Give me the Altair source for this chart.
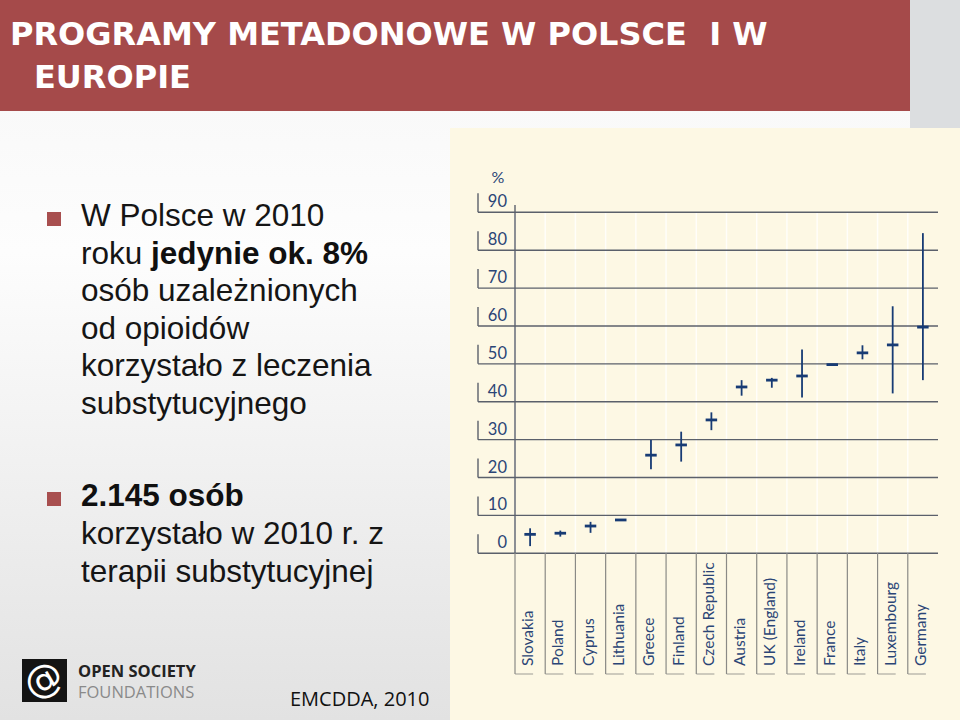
import altair as alt
import pandas as pd

# ---- data ----
countries = ["Slovakia", "Poland", "Cyprus", "Lithuania", "Greece", "Finland",
             "Czech Republic", "Austria", "UK (England)", "Ireland", "France",
             "Italy", "Luxembourg", "Germany"]
center = [5.0, 5.3, 7.2, 8.8, 25.9, 28.6, 35.2, 43.9, 45.7, 46.8, 49.8, 52.9, 55.0, 59.7]
low = [1.9, 4.4, 5.4, 8.8, 22.2, 24.2, 32.5, 41.6, 43.7, 41.1, 49.8, 51.2, 42.2, 45.7]
high = [6.6, 6.0, 8.3, 8.8, 29.9, 32.1, 37.2, 45.7, 46.3, 53.8, 49.8, 54.9, 65.2, 84.5]
y_ticks = [0, 10, 20, 30, 40, 50, 60, 70, 80, 90]

title_lines = ["PROGRAMY METADONOWE W POLSCE\u00a0\u00a0I W", "EUROPIE"]
bullet1 = ["W Polsce w 2010", "roku", "osób uzależnionych", "od opioidów",
           "korzystało z leczenia", "substytucyjnego"]
bullet1_bold = "jedynie ok. 8%"
bullet2_bold = "2.145 osób"
bullet2 = ["korzystało w 2010 r. z", "terapii substytucyjnej"]
source = "EMCDDA, 2010"

df = pd.DataFrame({"country": countries, "center": center, "low": low, "high": high})
dticks = pd.DataFrame({"v": y_ticks})
dc = pd.DataFrame({"country": countries})

NAVY = "#173b74"
LAB = "#2b4576"
GRID = "#5b606b"

xs = alt.Scale(domain=countries, range=[515, 938], paddingInner=0, paddingOuter=0)
ys = alt.Scale(domain=[0, 90], range=[553.3, 212.3], nice=False, zero=False)


def X(bp=0.5):
    return alt.X("country:N", scale=xs, axis=None, sort=countries, bandPosition=bp)


one = pd.DataFrame({"a": [0]})

# background
bg = alt.Chart(one).mark_rect(
    fill=alt.Gradient(gradient="linear", x1=0, y1=0, x2=0, y2=1,
                      stops=[alt.GradientStop(color="#f6f6f6", offset=0),
                             alt.GradientStop(color="#fdfdfd", offset=0.35),
                             alt.GradientStop(color="#e2e2e2", offset=1)])
).encode(x=alt.value(0), x2=alt.value(960), y=alt.value(0), y2=alt.value(720))

strip = alt.Chart(one).mark_rect(color="#dcdee0").encode(
    x=alt.value(910), x2=alt.value(960), y=alt.value(0), y2=alt.value(128))

header = alt.Chart(one).mark_rect(color="#a54a4a").encode(
    x=alt.value(0), x2=alt.value(910), y=alt.value(0), y2=alt.value(111))

cream = alt.Chart(one).mark_rect(color="#fdf8e4").encode(
    x=alt.value(450), x2=alt.value(960), y=alt.value(128), y2=alt.value(720))

faint = alt.Chart(dc).mark_rule(color="white", strokeWidth=1.5, opacity=0.8).encode(
    x=X(0), y=alt.value(212), y2=alt.value(553))

grid = alt.Chart(dticks).mark_rule(color=GRID, strokeWidth=1.4).encode(
    y=alt.Y("v:Q", scale=ys, axis=None), x=alt.value(478), x2=alt.value(938))

bars = alt.Chart(dticks).mark_rule(color=GRID, strokeWidth=1.4, yOffset=-19).encode(
    y=alt.Y("v:Q", scale=ys, axis=None), y2=alt.Y2("v:Q"), x=alt.value(478))

ylab = alt.Chart(dticks).mark_text(align="right", baseline="alphabetic", dy=-5,
                                   font="Lato", fontSize=16.5, color=LAB).encode(
    y=alt.Y("v:Q", scale=ys, axis=None), x=alt.value(507), text="v:Q")

pct = alt.Chart(one).mark_text(font="Lato", fontSize=16, color=LAB, baseline="middle").encode(
    x=alt.value(498), y=alt.value(178), text=alt.value("%"))

yaxis = alt.Chart(one).mark_rule(color=GRID, strokeWidth=1.4).encode(
    x=alt.value(515), y=alt.value(205), y2=alt.value(553))

seps = alt.Chart(dc).mark_rule(color="#8a8a86", strokeWidth=1.2).encode(
    x=X(0), y=alt.value(553), y2=alt.value(674))

feet = alt.Chart(dc).mark_tick(orient="horizontal", size=18, thickness=1.2,
                               color="#8a8a86", xOffset=-6).encode(
    x=X(), y=alt.value(674))

clab = alt.Chart(dc).mark_text(angle=270, align="left", baseline="middle",
                               font="Lato", fontSize=15.5, color=LAB, xOffset=-2).encode(
    x=X(), y=alt.value(666), text="country:N")

whisk = alt.Chart(df).mark_rule(color=NAVY, strokeWidth=1.8).encode(
    x=X(), y=alt.Y("low:Q", scale=ys, axis=None), y2="high:Q")

ticks = alt.Chart(df).mark_tick(orient="horizontal", size=11.5, thickness=2.8, color=NAVY,
                                opacity=1).encode(
    x=X(), y=alt.Y("center:Q", scale=ys, axis=None))

TF = "DejaVu Sans"
t1 = alt.Chart(one).mark_text(align="left", baseline="alphabetic", font=TF, fontSize=32,
                              fontWeight="bold", color="white").encode(
    x=alt.value(10), y=alt.value(45), text=alt.value(title_lines[0]))
t2 = alt.Chart(one).mark_text(align="left", baseline="alphabetic", font=TF, fontSize=32,
                              fontWeight="bold", color="white").encode(
    x=alt.value(34), y=alt.value(88), text=alt.value(title_lines[1]))

BF = "Liberation Sans, Arial, sans-serif"
FS = 31.5
sq1 = alt.Chart(one).mark_square(size=196, color="#a84f4f", opacity=1).encode(
    x=alt.value(54), y=alt.value(219))
sq2 = alt.Chart(one).mark_square(size=196, color="#a84f4f", opacity=1).encode(
    x=alt.value(54), y=alt.value(499))

b1 = alt.Chart(one).mark_text(align="left", baseline="alphabetic", font=BF, fontSize=FS,
                              lineHeight=37.6, color="#151515").encode(
    x=alt.value(81), y=alt.value(226), text=alt.value(bullet1))
b1b = alt.Chart(one).mark_text(align="left", baseline="alphabetic", font=BF, fontSize=FS,
                               fontWeight="bold", color="#101010").encode(
    x=alt.value(151), y=alt.value(264), text=alt.value(bullet1_bold))
b2b = alt.Chart(one).mark_text(align="left", baseline="alphabetic", font=BF, fontSize=FS,
                               fontWeight="bold", color="#101010").encode(
    x=alt.value(81), y=alt.value(506), text=alt.value(bullet2_bold))
b2 = alt.Chart(one).mark_text(align="left", baseline="alphabetic", font=BF, fontSize=FS,
                              lineHeight=37.8, color="#151515").encode(
    x=alt.value(81), y=alt.value(544), text=alt.value(bullet2))

logo = alt.Chart(one).mark_rect(color="#141414").encode(
    x=alt.value(22), x2=alt.value(67), y=alt.value(659), y2=alt.value(702))
swirl = alt.Chart(one).mark_text(font="DejaVu Sans", fontSize=38, color="white",
                                 angle=330, baseline="middle", align="center").encode(
    x=alt.value(44), y=alt.value(681), text=alt.value("@"))
osf1 = alt.Chart(one).mark_text(align="left", baseline="alphabetic", font="Open Sans",
                                fontSize=16.5, fontWeight="bold", color="#222222").encode(
    x=alt.value(78), y=alt.value(677), text=alt.value("OPEN SOCIETY"))
osf2 = alt.Chart(one).mark_text(align="left", baseline="alphabetic", font="Open Sans",
                                fontSize=16.5, color="#8a8a8a").encode(
    x=alt.value(78), y=alt.value(698), text=alt.value("FOUNDATIONS"))
src = alt.Chart(one).mark_text(align="left", baseline="alphabetic", font="Open Sans",
                               fontSize=20, color="#111111").encode(
    x=alt.value(290), y=alt.value(706), text=alt.value(source))

chart = alt.layer(
    bg, strip, header, cream, faint, grid, bars, ylab, pct, yaxis, seps, feet, clab,
    whisk, ticks, t1, t2, sq1, sq2, b1, b1b, b2b, b2, logo, swirl, osf1, osf2, src
).properties(
    width=960, height=720, padding=0, autosize="none", background="#f2f2f2"
).configure_view(stroke=None)

chart.save("out.html", embed_options={"renderer": "svg", "actions": False})
